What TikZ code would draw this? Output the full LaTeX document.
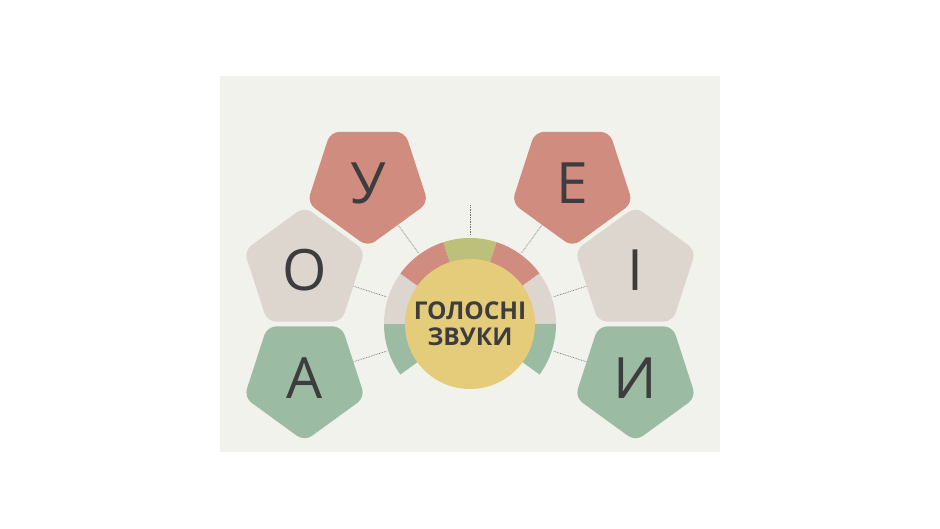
\documentclass[tikz,border=0pt]{standalone}
\usepackage{fontspec}
\setmainfont{Open Sans}
\usepackage{tikz}
\usetikzlibrary{shapes.geometric}
\usetikzlibrary{positioning}

\definecolor{paper}{HTML}{F1F2EB}
\definecolor{rose}{HTML}{D08C7F}
\definecolor{sand}{HTML}{DDD6CF}
\definecolor{sage}{HTML}{9CBBA3}
\definecolor{olive}{HTML}{BCC07A}
\definecolor{honey}{HTML}{E5CC7B}
\definecolor{ink}{HTML}{3D3D3D}
\definecolor{dotgray}{HTML}{75756F}

\begin{document}
\begin{tikzpicture}[x=1pt,y=1pt,
  vowel/.style={regular polygon, regular polygon sides=5, minimum size=127pt,
    inner sep=0pt, rounded corners=9pt, text=ink, font=\fontsize{57}{60}\selectfont},
  pointdown/.style={shape border rotate=180},
  link/.style={draw=dotgray, line width=0.7pt, dash pattern=on 0.8pt off 0.9pt}]
  \useasboundingbox (-470,-205) rectangle (470,324);
  \fill[paper] (-250,-128) rectangle (250,248);

  % ring round the centre
  \fill[sage] (180:86) arc[start angle=180, end angle=216, radius=86] -- (216:50) arc[start angle=216, end angle=180, radius=50] -- cycle;
  \fill[sand] (144:86) arc[start angle=144, end angle=180, radius=86] -- (180:50) arc[start angle=180, end angle=144, radius=50] -- cycle;
  \fill[rose] (108:86) arc[start angle=108, end angle=144, radius=86] -- (144:50) arc[start angle=144, end angle=108, radius=50] -- cycle;
  \fill[olive] (72:86) arc[start angle=72, end angle=108, radius=86] -- (108:50) arc[start angle=108, end angle=72, radius=50] -- cycle;
  \fill[rose] (36:86) arc[start angle=36, end angle=72, radius=86] -- (72:50) arc[start angle=72, end angle=36, radius=50] -- cycle;
  \fill[sand] (0:86) arc[start angle=0, end angle=36, radius=86] -- (36:50) arc[start angle=36, end angle=0, radius=50] -- cycle;
  \fill[sage] (-36:86) arc[start angle=-36, end angle=0, radius=86] -- (0:50) arc[start angle=0, end angle=-36, radius=50] -- cycle;

  \node (core) [circle, fill=honey, minimum size=130pt, inner sep=0pt, align=center,
    text=ink, font=\bfseries\fontsize{24.5}{26}\selectfont] at (0,0) {ГОЛОСНІ\\ЗВУКИ};

  % the vowels
  \node (vowU) [vowel, pointdown, fill=rose] at (126:174) {У};
  \node (vowO) [vowel, fill=sand] at (162:174) {О};
  \node (vowA) [vowel, pointdown, fill=sage] at (198:174) {А};
  \node (vowE) [vowel, pointdown, fill=rose] at (54:174) {Е};
  \node (vowI) [vowel, fill=sand] at (18:174) {І};
  \node (vowY) [vowel, pointdown, fill=sage] at (-18:174) {И};

  % dotted links
  \coordinate (ringU) at (126:88);
  \coordinate (ringO) at (162:88);
  \coordinate (ringA) at (198:88);
  \coordinate (ringE) at (54:88);
  \coordinate (ringI) at (18:88);
  \coordinate (ringY) at (-18:88);
  \coordinate (ringTop) at (90:89);
  \coordinate (tipTop) at (90:119);
  \draw[link] (ringU) -- (vowU);
  \draw[link] (ringO) -- (vowO);
  \draw[link] (ringA) -- (vowA);
  \draw[link] (ringE) -- (vowE);
  \draw[link] (ringI) -- (vowI);
  \draw[link] (ringY) -- (vowY);
  \draw[link] (ringTop) -- (tipTop);
\end{tikzpicture}
\end{document}
